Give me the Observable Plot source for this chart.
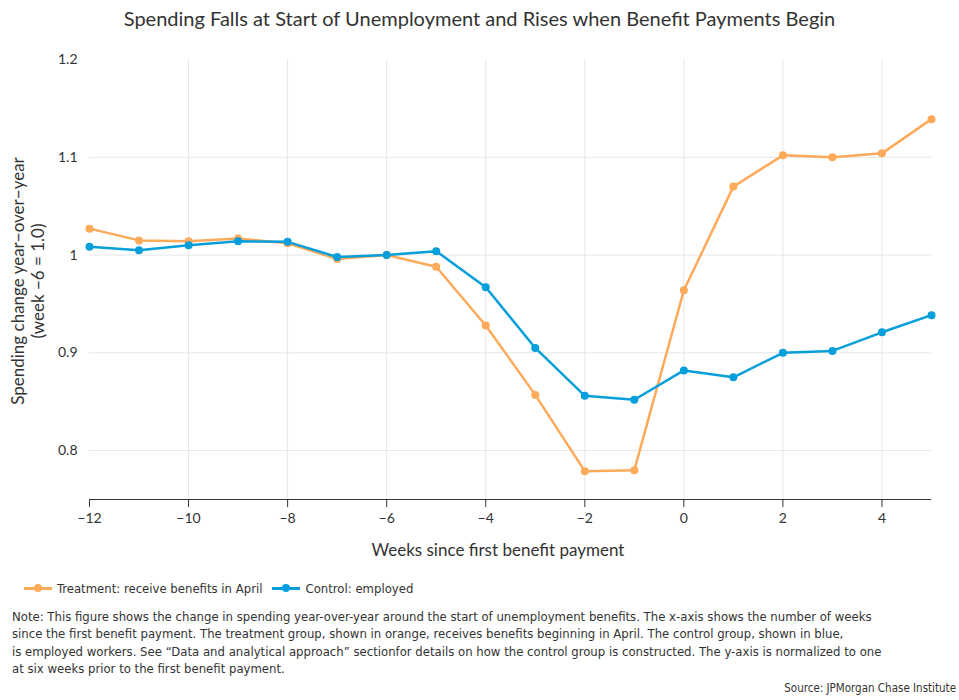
<!DOCTYPE html>
<html>
<head>
<meta charset="utf-8">
<script src="https://cdn.jsdelivr.net/npm/d3@7"></script>
<script src="https://cdn.jsdelivr.net/npm/@observablehq/plot@0.6"></script>
<style>
  body { margin: 0; background: #fff; width: 959px; font-family: Lato, "Noto Sans", sans-serif; color: #333; }
  #title { height: 36px; line-height: 36px; text-align: center; font-size: 20px; color: #333; }
  #legend { height: 22px; display: flex; align-items: center; padding-left: 24px; font-family: "Liberation Sans Narrow", "DejaVu Sans Condensed", sans-serif; font-size: 13px; color: #333; margin-top: 12px; }
  .sw { display: inline-block; position: relative; width: 28px; height: 3px; margin-right: 5px; }
  .sw i { position: absolute; left: 10px; top: -2.5px; width: 8px; height: 8px; border-radius: 50%; }
  .item { display: flex; align-items: center; margin-right: 10px; }
  #note { padding: 0 12px; margin-top: 9px; font-family: "Liberation Sans Narrow", "DejaVu Sans Condensed", sans-serif; font-size: 13px; line-height: 17.3px; color: #333; }
  #source { text-align: right; padding-right: 3px; margin-top: 4px; font-family: "Liberation Sans Narrow", "DejaVu Sans Condensed", sans-serif; font-size: 11.5px; line-height: 14px; color: #333; }
</style>
</head>
<body>
<div id="title">Spending Falls at Start of Unemployment and Rises when Benefit Payments Begin</div>
<div id="chart"></div>
<div id="legend"></div>
<div id="note">Note: This figure shows the change in spending year-over-year around the start of unemployment benefits. The x-axis shows the number of weeks<br>since the first benefit payment. The treatment group, shown in orange, receives benefits beginning in April. The control group, shown in blue,<br>is employed workers. See “Data and analytical approach” sectionfor details on how the control group is constructed. The y-axis is normalized to one<br>at six weeks prior to the first benefit payment.</div>
<div id="source">Source: JPMorgan Chase Institute</div>
<script>
const weeks = [-12, -11, -10, -9, -8, -7, -6, -5, -4, -3, -2, -1, 0, 1, 2, 3, 4, 5];
const treatment = [1.027, 1.015, 1.014, 1.017, 1.012, 0.996, 1.0, 0.988, 0.928, 0.857, 0.779, 0.780, 0.964, 1.070, 1.102, 1.100, 1.104, 1.139];
const control = [1.0085, 1.005, 1.010, 1.014, 1.0135, 0.998, 1.0, 1.004, 0.967, 0.905, 0.856, 0.852, 0.882, 0.875, 0.900, 0.902, 0.921, 0.9385];
const seriesNames = ["Treatment: receive benefits in April", "Control: employed"];
const seriesColors = ["#fdaa5a", "#069fdb"];
const xTicks = [-12, -10, -8, -6, -4, -2, 0, 2, 4];
const yTicks = [0.8, 0.9, 1.0, 1.1, 1.2];

const data = [];
weeks.forEach((w, i) => {
  data.push({week: w, value: treatment[i], series: seriesNames[0]});
  data.push({week: w, value: control[i], series: seriesNames[1]});
});

const fmtY = d => (d === 1 ? "1" : d3.format(".1f")(d));
const fmtX = d => (d < 0 ? "\u2212" + Math.abs(d) : String(d));

const plot = Plot.plot({
  width: 959,
  height: 529,
  marginLeft: 89,
  marginRight: 28,
  marginTop: 23,
  marginBottom: 66,
  style: {fontFamily: "Lato, 'Noto Sans', sans-serif", fontSize: "14px", color: "#333", background: "#fff"},
  x: {domain: [-12, 5], ticks: xTicks, tickFormat: fmtX, label: null},
  y: {domain: [0.75, 1.2], ticks: yTicks, tickFormat: fmtY, label: null},
  color: {domain: seriesNames, range: seriesColors},
  marks: [
    Plot.gridY([0.8, 0.9, 1.0, 1.1], {stroke: "#e6e6e6", strokeOpacity: 1, strokeWidth: 1}),
    Plot.gridX(xTicks.filter(d => d > -12), {stroke: "#e6e6e6", strokeOpacity: 1, strokeWidth: 1}),
    Plot.axisY(yTicks, {tickSize: 0, tickPadding: 12, tickFormat: fmtY, fontSize: 14, fill: "#333"}),
    Plot.axisX(xTicks, {tickSize: 8, tickPadding: 6, tickFormat: fmtX, fontSize: 14, stroke: "#333", fill: "#333"}),
    Plot.ruleY([0.75], {stroke: "#333", strokeWidth: 1.2}),
    Plot.line(data, {x: "week", y: "value", stroke: "series", strokeWidth: 2.5}),
    Plot.dot(data, {x: "week", y: "value", fill: "series", r: 4})
  ]
});

const svg = d3.select(plot);
svg.style("overflow", "visible");
// axis titles
svg.append("text")
  .attr("x", 498).attr("y", 520)
  .attr("text-anchor", "middle")
  .attr("font-size", 17).attr("fill", "#333")
  .text("Weeks since first benefit payment");
const yl = svg.append("text")
  .attr("transform", "translate(24," + (281 - 36) + ") rotate(-90)")
  .attr("text-anchor", "middle")
  .attr("font-size", 17).attr("fill", "#333");
yl.append("tspan").attr("x", 0).attr("dy", 0).text("Spending change year\u2212over\u2212year");
yl.append("tspan").attr("x", 0).attr("dy", 20).text("(week \u22126 = 1.0)");

document.getElementById("chart").appendChild(plot);

const legend = document.getElementById("legend");
seriesNames.forEach((n, i) => {
  const it = document.createElement("span");
  it.className = "item";
  it.innerHTML = `<span class="sw" style="background:${seriesColors[i]}"><i style="background:${seriesColors[i]}"></i></span>${n}`;
  legend.appendChild(it);
});
</script>
</body>
</html>
